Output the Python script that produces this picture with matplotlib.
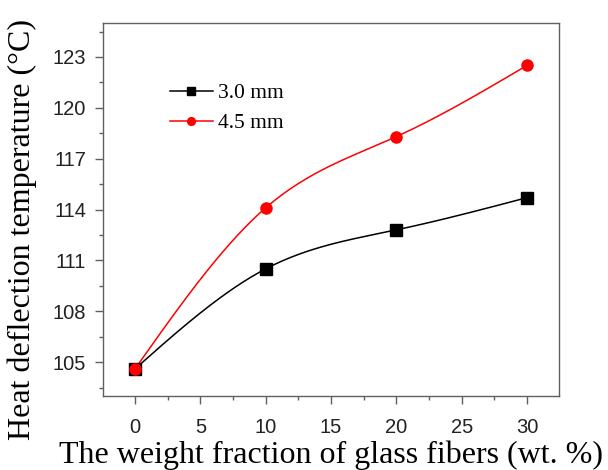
import numpy as np
import matplotlib
matplotlib.use("Agg")
import matplotlib.pyplot as plt
from matplotlib.ticker import MultipleLocator

fraction = [0, 10, 20, 30]
hdt_30mm = [104.6, 110.5, 112.8, 114.7]
hdt_45mm = [104.6, 114.1, 118.3, 122.5]
series_labels = ["3.0 mm", "4.5 mm"]


def natural_spline(x, y, n=200):
    x = np.asarray(x, float)
    y = np.asarray(y, float)
    k = len(x)
    h = np.diff(x)
    A = np.zeros((k, k))
    b = np.zeros(k)
    A[0, 0] = A[-1, -1] = 1
    for i in range(1, k - 1):
        A[i, i - 1] = h[i - 1]
        A[i, i] = 2 * (h[i - 1] + h[i])
        A[i, i + 1] = h[i]
        b[i] = 6 * ((y[i + 1] - y[i]) / h[i] - (y[i] - y[i - 1]) / h[i - 1])
    M = np.linalg.solve(A, b)
    xs = np.linspace(x[0], x[-1], n)
    ys = np.empty_like(xs)
    for j, xv in enumerate(xs):
        i = min(np.searchsorted(x, xv, side="right") - 1, k - 2)
        t1 = x[i + 1] - xv
        t0 = xv - x[i]
        ys[j] = (M[i] * t1 ** 3 + M[i + 1] * t0 ** 3) / (6 * h[i]) \
            + (y[i] / h[i] - M[i] * h[i] / 6) * t1 \
            + (y[i + 1] / h[i] - M[i + 1] * h[i] / 6) * t0
    return xs, ys


fig = plt.figure(figsize=(6.08, 4.70), dpi=100)
ax = fig.add_axes([0.1694, 0.1574, 0.7500, 0.7936])

serif = ["Liberation Serif", "DejaVu Serif"]
sans = ["Liberation Sans", "DejaVu Sans"]

for yv, color, marker, lab in [(hdt_30mm, "black", "s", series_labels[0]),
                               (hdt_45mm, "#ff0000", "o", series_labels[1])]:
    xs, ys = natural_spline(fraction, yv)
    ax.plot(xs, ys, color=color, lw=1.1, zorder=2)
    ax.plot(fraction, yv, linestyle="none", marker=marker, color=color,
            markersize=8, zorder=3)
    ax.plot([], [], color=color, lw=1.1, marker=marker, markersize=8, label=lab)

ax.set_xlim(-2.45, 32.45)
ax.set_ylim(103, 125)
ax.xaxis.set_major_locator(MultipleLocator(5))
ax.xaxis.set_minor_locator(MultipleLocator(2.5))
ax.set_yticks([105, 108, 111, 114, 117, 120, 123])
ax.yaxis.set_minor_locator(MultipleLocator(1.5))

for sp in ax.spines.values():
    sp.set_color("#606060")
    sp.set_linewidth(1.0)

ax.tick_params(which="both", direction="out", color="#606060", width=1.0,
               top=False, right=False)
ax.tick_params(which="major", length=6, labelsize=14.5)
ax.tick_params(axis="y", which="major", pad=6)
ax.tick_params(axis="x", which="major", pad=10)
ax.tick_params(which="minor", length=3)
for lbl in ax.get_xticklabels() + ax.get_yticklabels():
    lbl.set_family(sans)
    lbl.set_color("#222222")

ax.set_xlabel("The weight fraction of glass fibers (wt. %)", fontsize=23,
              family=serif, labelpad=2)
ax.set_ylabel("Heat deflection temperature (\u00b0C)", fontsize=23,
              family=serif)
ax.yaxis.set_label_coords(-0.145, 0.446)

leg = ax.legend(loc="upper left", bbox_to_anchor=(0.123, 0.867), frameon=False,
                prop={"family": serif, "size": 15.5}, handlelength=2.0,
                handletextpad=0.25, labelspacing=0.45, borderpad=0,
                markerscale=0.7)

fig.savefig("out.png", dpi=100)
